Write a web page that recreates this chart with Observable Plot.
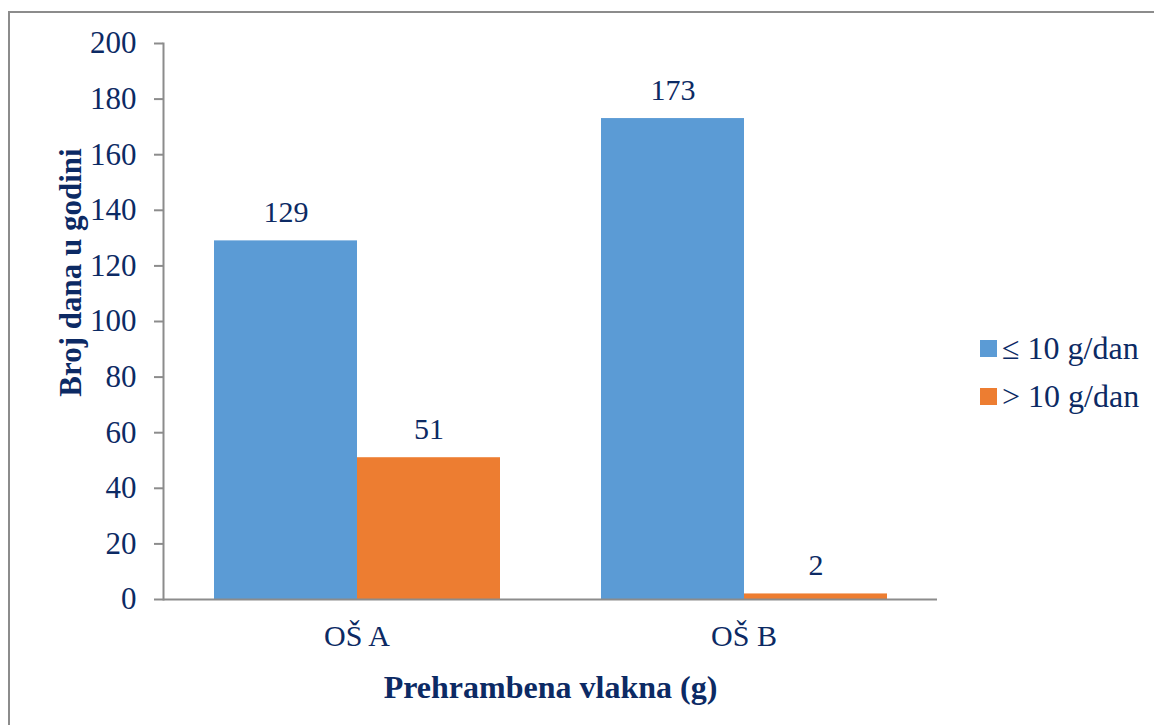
<!DOCTYPE html>
<html>
<head>
<meta charset="utf-8">
<script src="https://cdn.jsdelivr.net/npm/d3@7"></script>
<script src="https://cdn.jsdelivr.net/npm/@observablehq/plot@0.6"></script>
<style>
  html, body { margin: 0; padding: 0; background: #fff; overflow: hidden; }
  #wrap { position: relative; width: 1154px; height: 725px; font-family: "Liberation Serif", "Times New Roman", serif; }
  #border { position: absolute; left: 8px; top: 11px; right: -20px; bottom: -20px; border-top: 2px solid #8c8c8c; border-left: 2px solid #8c8c8c; }
  #chart { position: absolute; left: 0; top: 0; }
  #legend { position: absolute; left: 980px; top: 324px; color: #0c2a64; font-size: 32px; }
  .item { display: flex; align-items: center; height: 48px; }
  .sw { width: 17px; height: 17px; margin-right: 5px; }
</style>
</head>
<body>
<div id="wrap">
  <div id="border"></div>
  <div id="chart"></div>
  <div id="legend"></div>
</div>
<script>
const schools = ["OŠ A", "OŠ B"];
const seriesNames = ["≤ 10 g/dan", "> 10 g/dan"];
const seriesColors = ["#5B9BD5", "#ED7D31"];
const valuesLow = [129, 173];
const valuesHigh = [51, 2];
const yTicks = [0, 20, 40, 60, 80, 100, 120, 140, 160, 180, 200];
const yLabel = "Broj dana u godini";
const xLabel = "Prehrambena vlakna (g)";

const data = [];
schools.forEach((s, i) => {
  data.push({school: s, series: seriesNames[0], value: valuesLow[i]});
  data.push({school: s, series: seriesNames[1], value: valuesHigh[i]});
});

const textColor = "#0c2a64";
const axisColor = "#8c8c8c";

const plot = Plot.plot({
  width: 1154,
  height: 725,
  marginLeft: 162,
  marginRight: 217,
  marginTop: 43,
  marginBottom: 126,
  style: {fontFamily: "'Liberation Serif', 'Times New Roman', serif", fontSize: "30px", color: textColor, background: "transparent"},
  fx: {domain: schools, padding: 0},
  x: {domain: seriesNames, paddingInner: 0, paddingOuter: 0.3526, axis: null},
  y: {domain: [0, 200], ticks: yTicks},
  color: {domain: seriesNames, range: seriesColors},
  marks: [
    Plot.barY(data, {fx: "school", x: "series", y: "value", fill: "series", inset: 0}),
    Plot.ruleY([0], {stroke: axisColor, strokeWidth: 2}),
    Plot.frame({anchor: "left", facetAnchor: "left", stroke: axisColor, strokeWidth: 2}),
    Plot.axisY({ticks: yTicks, tickSize: 9, tickPadding: 18, stroke: axisColor, strokeWidth: 2, fill: textColor, label: null, fontSize: 31}),
    Plot.text([yLabel], {frameAnchor: "left", facetAnchor: "left", rotate: -90, textAnchor: "middle", lineAnchor: "middle", dx: -92, dy: -49, fontWeight: "bold", fill: textColor, fontSize: 31}),
    Plot.axisFx({anchor: "bottom", tickSize: 0, tickPadding: 25, label: null, fill: textColor, fontSize: 30}),
    Plot.axisFx({anchor: "bottom", ticks: [], label: xLabel, labelAnchor: "center", labelArrow: "none", labelOffset: 98, fontWeight: "bold", fill: textColor, fontSize: 32}),
    Plot.text(data, {fx: "school", x: "series", y: "value", text: d => String(d.value), lineAnchor: "bottom", dy: -19, fill: textColor, fontSize: 30})
  ]
});
document.getElementById("chart").appendChild(plot);

const legend = document.getElementById("legend");
seriesNames.forEach((n, i) => {
  const item = document.createElement("div");
  item.className = "item";
  const sw = document.createElement("div");
  sw.className = "sw";
  sw.style.background = seriesColors[i];
  const t = document.createElement("span");
  t.textContent = n;
  item.appendChild(sw);
  item.appendChild(t);
  legend.appendChild(item);
});
</script>
</body>
</html>
